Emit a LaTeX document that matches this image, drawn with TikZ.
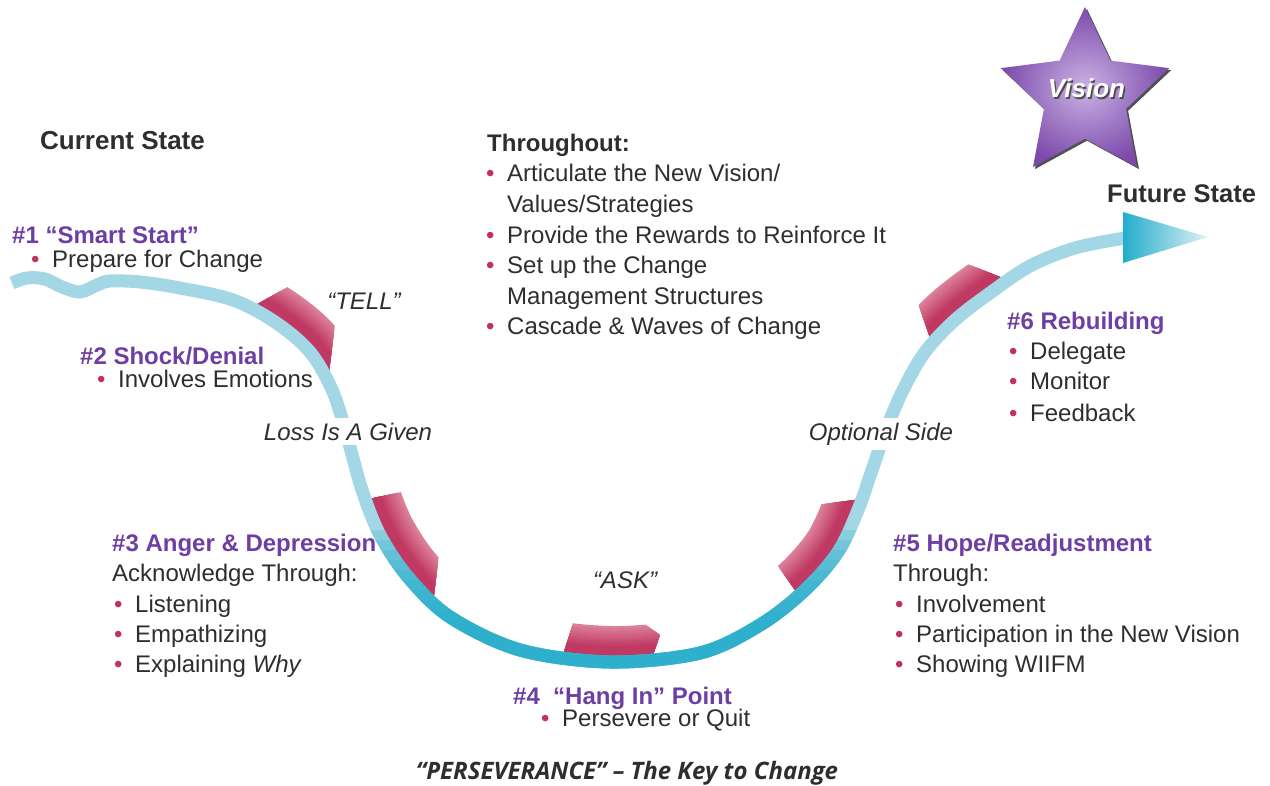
\documentclass[tikz,border=0pt]{standalone}
\usepackage{fontspec}
\setmainfont{Liberation Sans}
\newfontfamily\perfont{Open Sans}
\usetikzlibrary{shapes.geometric,shadows}
\definecolor{hdc}{HTML}{6E3FA3}
\definecolor{tx}{HTML}{2E2E2E}
\definecolor{bu}{HTML}{C2305C}
\definecolor{bl}{HTML}{A3D7E5}
\definecolor{bldk}{HTML}{22ADCB}
\definecolor{rdl}{HTML}{DC8099}
\definecolor{rdd}{HTML}{BE3560}
\definecolor{stl}{HTML}{C9B2E4}
\definecolor{std}{HTML}{7D4AAB}
\newcommand\bul{\makebox[21pt][l]{\textcolor{bu}{•}}}
\tikzset{
  ucurve/.style={insert path={plot[smooth,tension=0.55] coordinates {(12,283) (27,278) (45,279) (62,287) (80,292) (97,285) (110,281) (140,282) (180,288) (233,300) (275,322) (310,352) (333,392) (348,440) (362,490) (380,535) (408,577) (450,617) (520,650) (610,662) (700,653) (760,625) (805,590) (838,552) (858,510) (872,470) (886,430) (903,390) (925,352) (955,320) (990,293) (1030,266) (1075,248) (1125,238)}}},
  bas/.style={anchor=base west, inner sep=0pt},
  hd/.style={bas, font=\fontsize{24}{28}\selectfont\bfseries, text=hdc},
  tb/.style={bas, font=\fontsize{24}{28}\selectfont, text=tx},
  hb/.style={bas, font=\fontsize{25.5}{28}\selectfont\bfseries, text=tx},
  lab/.style={anchor=base, inner sep=0pt, font=\fontsize{24}{28}\selectfont\itshape, text=tx},
  wlab/.style={lab, fill=white, inner xsep=2pt, inner ysep=5pt},
}
\begin{document}
\begin{tikzpicture}[x=1pt,y=-1pt]
\fill[white] (0,0) rectangle (1270,786);
\useasboundingbox (0,0) rectangle (1270,786);

% red bands
\begin{scope}
  \clip[ucurve] -- (1125,0) -- (12,0) -- cycle;
  \clip (240,314) -- (300,280) -- (330,300) -- (335.5,320) -- (328,380) -- (240,380) -- cycle
        (355,502) -- (420,488) -- (440,505) -- (442,530) -- (434,595) -- (355,595) -- cycle
        (559,668) -- (577,610) -- (625,610) -- (660,635) -- (647,672) -- cycle
        (800,597) -- (765,548) -- (775,515) -- (800,507) -- (870,498) -- (870,600) -- cycle
        (935,352) -- (915,295) -- (920,265) -- (945,255) -- (1010,281) -- (1000,360) -- cycle;
  \foreach \w/\p in {72/100, 67/88, 62/76, 57/64, 52/52, 47/40, 42/28, 37/16, 32/5}{
    \draw[color=rdl!\p!rdd, line width=\w pt, ucurve];
  }
\end{scope}

% blue curve
\draw[bl, line width=13pt, ucurve];
\foreach \i in {0,...,9}{
  \begin{scope}
    \clip (0,{530+10*\i}) rectangle (1270,786);
    \draw[bldk, opacity=0.2, line width=13pt, ucurve];
  \end{scope}
}
\shade[left color=bldk, right color=bl!35] (1123,212) -- (1208,237) -- (1123,263) -- cycle;

% star
\node[star, star points=5, star point ratio=2.05, minimum size=177pt, inner sep=0pt,
      inner color=stl, outer color=std,
      drop shadow={shadow xshift=2pt, shadow yshift=-2pt, fill=black!85, opacity=0.8}] (star) at (1085,95.5) {};
\node[anchor=base, inner sep=0pt, font=\fontsize{26}{28}\selectfont\bfseries\itshape, text=black!70] (visionsh) at (1088,99.5) {Vision};
\node[anchor=base, inner sep=0pt, font=\fontsize{26}{28}\selectfont\bfseries\itshape, text=white] (vision) at (1086.5,98) {Vision};

% texts
\node[hb, font=\fontsize{26}{28}\selectfont\bfseries] (cs) at (40,150) {Current State};
\node[hb] (fs) at (1107,203) {Future State};

\node[hb, font=\fontsize{24}{28}\selectfont\bfseries] (th) at (487,152) {Throughout:};
\node[tb] (t1) at (486,182) {\bul Articulate the New Vision/};
\node[tb] (t1b) at (507,213) {Values/Strategies};
\node[tb] (t2) at (486,244) {\bul Provide the Rewards to Reinforce It};
\node[tb] (t3) at (486,274) {\bul Set up the Change};
\node[tb] (t3b) at (507,305) {Management Structures};
\node[tb] (t4) at (486,335) {\bul Cascade \& Waves of Change};

\node[hd] (s1) at (12,244) {\#1 “Smart Start”};
\node[tb] (s1a) at (31,268) {\bul Prepare for Change};

\node[lab] (tell) at (364,310) {“TELL”};

\node[hd] (s2) at (80,365) {\#2 Shock/Denial};
\node[tb] (s2a) at (97,388) {\bul Involves Emotions};

\node[wlab] (loss) at (348,440) {Loss Is A Given};
\node[wlab] (opt) at (881,440) {Optional Side};

\node[hd] (s3) at (112,551) {\#3 Anger \& Depression};
\node[tb] (s3a) at (112,581) {Acknowledge Through:};
\node[tb] (s3b) at (114,612) {\bul Listening};
\node[tb] (s3c) at (114,642) {\bul Empathizing};
\node[tb] (s3d) at (114,672) {\bul Explaining \textit{Why}};

\node[lab] (ask) at (625,588) {“ASK”};

\node[hd] (s4) at (513,704) {\#4 \ “Hang In” Point};
\node[tb] (s4a) at (541,726) {\bul Persevere or Quit};

\node[anchor=base, inner sep=0pt, font=\perfont\fontsize{24}{26}\selectfont\bfseries\itshape, text=tx] (pers) at (627,779) {“PERSEVERANCE” – The Key to Change};

\node[hd] (s5) at (893,551) {\#5 Hope/Readjustment};
\node[tb] (s5a) at (893,581) {Through:};
\node[tb] (s5b) at (895,612) {\bul Involvement};
\node[tb] (s5c) at (895,642) {\bul Participation in the New Vision};
\node[tb] (s5d) at (895,672) {\bul Showing WIIFM};

\node[hd] (s6) at (1007,330) {\#6 Rebuilding};
\node[tb] (s6a) at (1009,360) {\bul Delegate};
\node[tb] (s6b) at (1009,390) {\bul Monitor};
\node[tb] (s6c) at (1009,421) {\bul Feedback};
\end{tikzpicture}
\end{document}
